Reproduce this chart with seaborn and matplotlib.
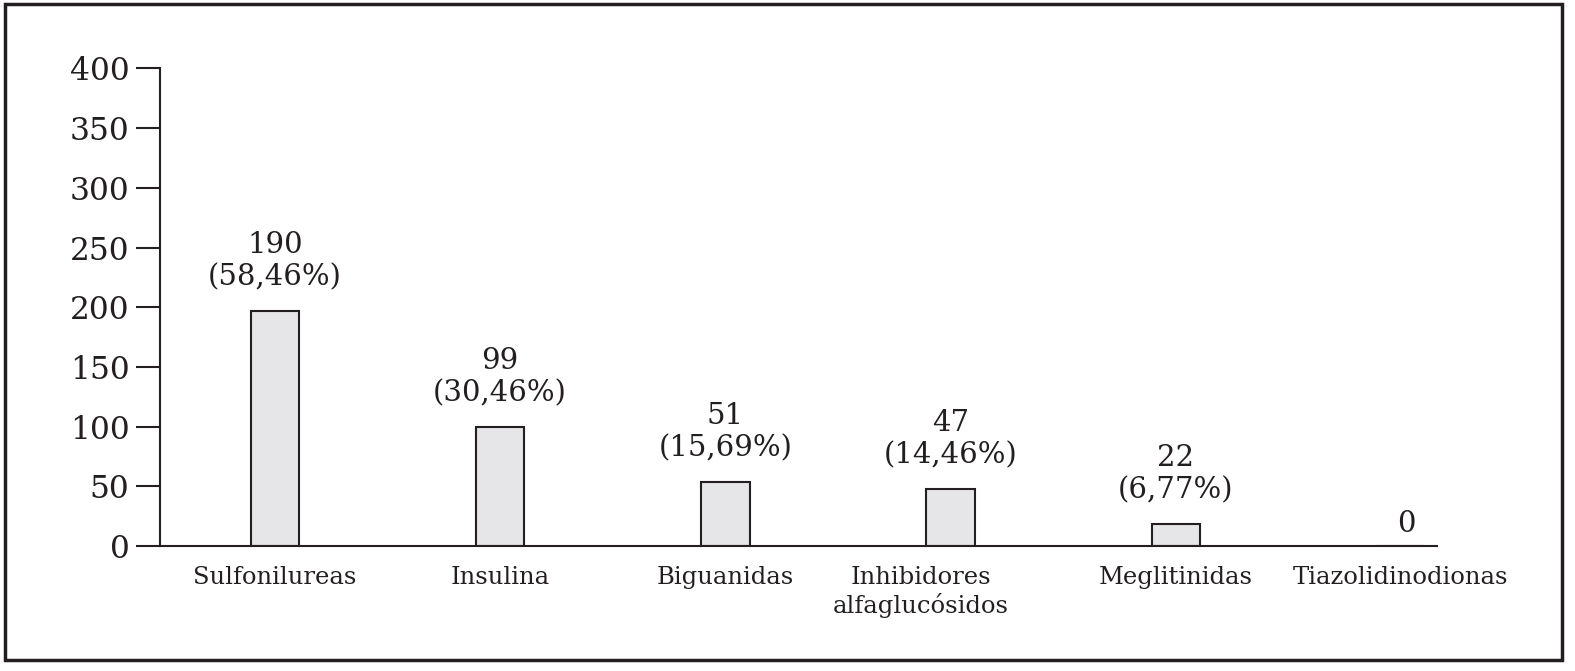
import matplotlib
matplotlib.use("Agg")
import matplotlib.pyplot as plt
import matplotlib.transforms as mtransforms
import pandas as pd
import seaborn as sns
from matplotlib.patches import Rectangle

categories = ["Sulfonilureas", "Insulina", "Biguanidas",
              "Inhibidores\nalfaglucósidos", "Meglitinidas", "Tiazolidinodionas"]
# bar heights as drawn in the picture
heights = [197, 100, 54, 48, 19, 0]
counts = [190, 99, 51, 47, 22, 0]
percents = ["58,46%", "30,46%", "15,69%", "14,46%", "6,77%", None]
yticks = [0, 50, 100, 150, 200, 250, 300, 350, 400]

sns.set_theme(style="white")
plt.rcParams["font.family"] = ["DejaVu Serif"]
ink = "#231f20"

df = pd.DataFrame({"grupo": categories, "n": heights})

fig = plt.figure(figsize=(15.75, 6.71), dpi=100)
ax = fig.add_axes([0.1016, 0.186, 0.8108, 0.712])

sns.barplot(data=df, x="grupo", y="n", order=categories, color="#e6e6e8",
            edgecolor=ink, linewidth=1.5, width=0.215, saturation=1, ax=ax)

labels = [f"{c}\n({p})" if p else f"{c}" for c, p in zip(counts, percents)]
texts = ax.bar_label(ax.containers[0], labels=labels, padding=14,
                     fontsize=21, color=ink, linespacing=1.2)
for t in texts:
    t.set_ha("center")
texts[-1].xyann = (4, 6)

ax.set_ylim(0, 400)
ax.set_xlim(-0.51, 5.16)
ax.set_yticks(yticks)
ax.set_xlabel("")
ax.set_ylabel("")
for s in ["top", "right"]:
    ax.spines[s].set_visible(False)
for s in ["left", "bottom"]:
    ax.spines[s].set_color(ink)
    ax.spines[s].set_linewidth(1.5)
ax.tick_params(axis="y", length=17, width=1.5, color=ink, pad=5,
               labelsize=22.5, labelcolor=ink, left=True)
ax.tick_params(axis="x", length=0, pad=14, labelsize=17.5, labelcolor=ink)

# the two-line label sits a bit left of its bar in the original
lab = ax.get_xticklabels()[3]
lab.set_transform(lab.get_transform() +
                  mtransforms.ScaledTranslation(-0.3, 0, fig.dpi_scale_trans))

fig.patches.append(Rectangle((0.003, 0.016), 0.989, 0.978, transform=fig.transFigure,
                             fill=False, edgecolor=ink, linewidth=2.5))

fig.savefig("out.png", dpi=100, facecolor="white")
